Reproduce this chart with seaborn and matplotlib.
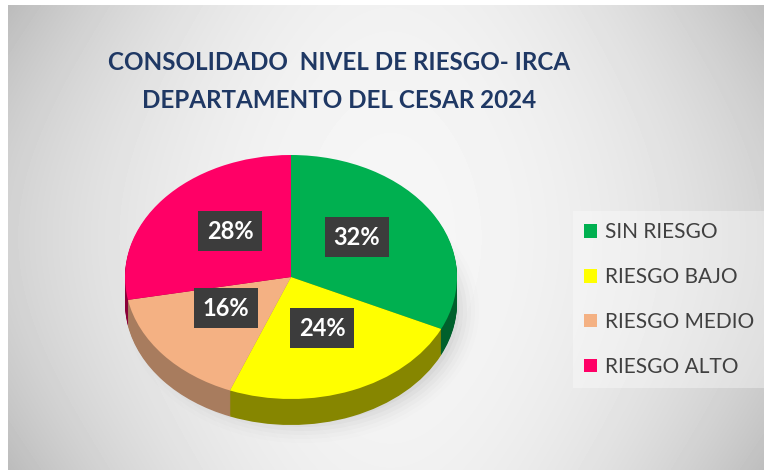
import numpy as np
import matplotlib
matplotlib.use("Agg")
import matplotlib.pyplot as plt
import seaborn as sns
from matplotlib.patches import Ellipse

# ---- data ----
categories = ["SIN RIESGO", "RIESGO BAJO", "RIESGO MEDIO", "RIESGO ALTO"]
values = [32, 24, 16, 28]
top_colors = ["#00B050", "#FFFF00", "#F4B183", "#FF0066"]
side_colors = ["#00602C", "#868600", "#A87C5E", "#8A0038"]
title_lines = ["CONSOLIDADO  NIVEL DE RIESGO- IRCA", "DEPARTAMENTO DEL CESAR 2024"]

sns.set_theme(style="white")
plt.rcParams["font.family"] = ["Lato", "DejaVu Sans"]

W, H = 764, 470
fig = plt.figure(figsize=(W / 100, H / 100), dpi=100)
fig.patch.set_facecolor("white")

# ---- background gradient ----
bx0, by_top = 8, 5
bg = fig.add_axes([bx0 / W, 0, (W - bx0) / W, (H - by_top) / H])
yy, xx = np.mgrid[by_top:H, bx0:W]
u = (xx - 390) / 382.0
w = (yy - 237) / 232.0
v = 0.965 - 0.14 * u**2 - 0.07 * (u**2) * (w**2) - 0.02 * w**2
bg.imshow(v, cmap="gray", vmin=0, vmax=1, aspect="auto", interpolation="bilinear")
bg.axis("off")

# ---- pie axes (pixel-like coordinates, y up) ----
cx, cy = 291, 277
rx, ry = 166, 122
depth = 26
s = rx / ry
ax = fig.add_axes([0, 0, 1, 1])
ax.patch.set_alpha(0)

def py(p):
    return (H - p) * s

# shadow under the pie
for k, a in enumerate(np.linspace(0.06, 0.015, 6)):
    e = Ellipse((cx + 12, py(cy + depth + 8)), 2 * (rx - 10 + k * 4), 2 * (ry - 10 + k * 4) * s,
                facecolor="#808080", edgecolor="none", alpha=a, zorder=0)
    ax.add_patch(e)

for d in range(depth, 0, -1):
    ax.pie(values, colors=side_colors, startangle=90, counterclock=False,
           center=(cx, py(cy + d)), radius=rx, frame=True,
           wedgeprops=dict(linewidth=0, antialiased=True))
wedges, _ = ax.pie(values, colors=top_colors, startangle=90, counterclock=False,
                   center=(cx, py(cy)), radius=rx, frame=True,
                   wedgeprops=dict(linewidth=0))
ax.set_aspect("auto")
ax.set_xlim(0, W)
ax.set_ylim(0, H * s)
ax.axis("off")

# ---- data labels ----
label_pos = [(357, 237), (322, 328), (226, 308), (230, 231)]
for (lx, ly), val in zip(label_pos, values):
    ax.text(lx, py(ly), f"{val}%", ha="center", va="center", fontsize=17,
            fontweight="bold", color="white",
            bbox=dict(boxstyle="square,pad=0.36", facecolor="#3C3C3C", edgecolor="none"))

# ---- title ----
for i, t in enumerate(title_lines):
    fig.text(339 / W, 1 - (62 + 38 * i) / H, t, ha="center", va="center",
             fontsize=17.4, fontweight="bold", color="#1F3864")

# ---- legend ----
leg = fig.legend(wedges, categories, loc="upper left",
                 bbox_to_anchor=(573 / W, 1 - 211 / H), borderaxespad=0,
                 fontsize=15, labelcolor="#404040", frameon=True, fancybox=False,
                 facecolor="white", framealpha=0.35, edgecolor="none",
                 handlelength=0.62, handleheight=0.62, handletextpad=0.35,
                 labelspacing=1.19, borderpad=0.55)

fig.savefig("out.png", dpi=100)
